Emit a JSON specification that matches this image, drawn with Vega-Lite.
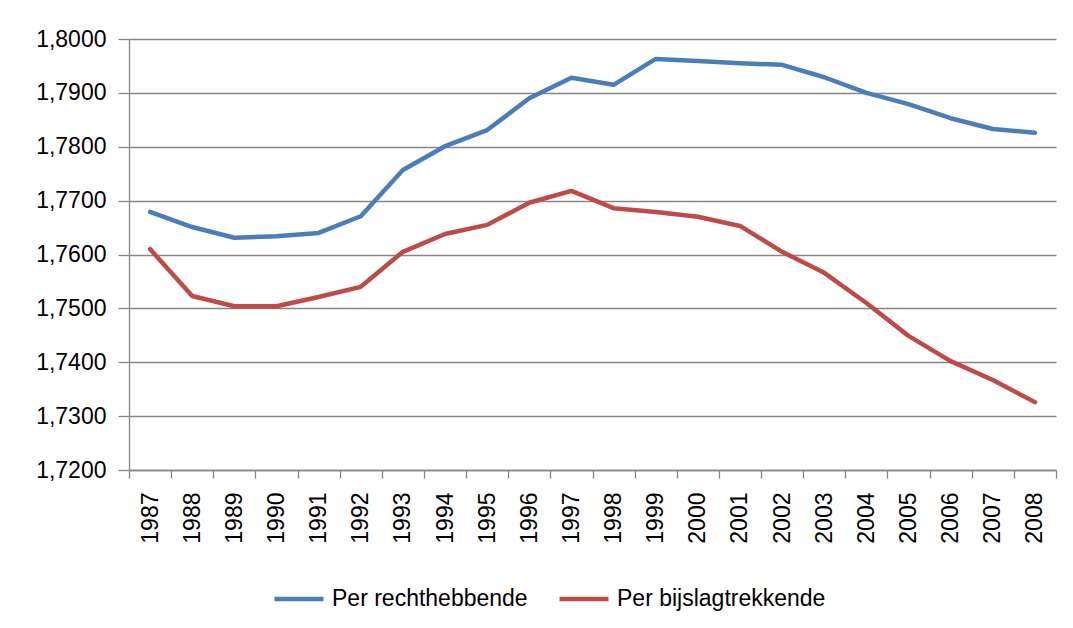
{
  "$schema": "https://vega.github.io/schema/vega-lite/v6.json",
  "autosize": {"type": "none"},
  "width": 927,
  "height": 431,
  "padding": {"left": 129, "top": 39, "right": 17, "bottom": 158},
  "background": "white",
  "config": {
    "view": {"stroke": null},
    "font": "Liberation Sans",
    "axis": {"labelFont": "Liberation Sans", "labelColor": "black", "domainColor": "#868686", "tickColor": "#868686", "gridColor": "#868686", "domainWidth": 1.3, "tickWidth": 1.3, "gridWidth": 1.3}
  },
  "data": {"values": [
    {"jaar": "1987", "reeks": "Per rechthebbende", "waarde": 1.7679},
    {"jaar": "1988", "reeks": "Per rechthebbende", "waarde": 1.7651},
    {"jaar": "1989", "reeks": "Per rechthebbende", "waarde": 1.7631},
    {"jaar": "1990", "reeks": "Per rechthebbende", "waarde": 1.7634},
    {"jaar": "1991", "reeks": "Per rechthebbende", "waarde": 1.7640},
    {"jaar": "1992", "reeks": "Per rechthebbende", "waarde": 1.7671},
    {"jaar": "1993", "reeks": "Per rechthebbende", "waarde": 1.7757},
    {"jaar": "1994", "reeks": "Per rechthebbende", "waarde": 1.7801},
    {"jaar": "1995", "reeks": "Per rechthebbende", "waarde": 1.7831},
    {"jaar": "1996", "reeks": "Per rechthebbende", "waarde": 1.7890},
    {"jaar": "1997", "reeks": "Per rechthebbende", "waarde": 1.7928},
    {"jaar": "1998", "reeks": "Per rechthebbende", "waarde": 1.7915},
    {"jaar": "1999", "reeks": "Per rechthebbende", "waarde": 1.7963},
    {"jaar": "2000", "reeks": "Per rechthebbende", "waarde": 1.7959},
    {"jaar": "2001", "reeks": "Per rechthebbende", "waarde": 1.7955},
    {"jaar": "2002", "reeks": "Per rechthebbende", "waarde": 1.7952},
    {"jaar": "2003", "reeks": "Per rechthebbende", "waarde": 1.7929},
    {"jaar": "2004", "reeks": "Per rechthebbende", "waarde": 1.7900},
    {"jaar": "2005", "reeks": "Per rechthebbende", "waarde": 1.7879},
    {"jaar": "2006", "reeks": "Per rechthebbende", "waarde": 1.7853},
    {"jaar": "2007", "reeks": "Per rechthebbende", "waarde": 1.7833},
    {"jaar": "2008", "reeks": "Per rechthebbende", "waarde": 1.7826},
    {"jaar": "1987", "reeks": "Per bijslagtrekkende", "waarde": 1.7610},
    {"jaar": "1988", "reeks": "Per bijslagtrekkende", "waarde": 1.7523},
    {"jaar": "1989", "reeks": "Per bijslagtrekkende", "waarde": 1.7504},
    {"jaar": "1990", "reeks": "Per bijslagtrekkende", "waarde": 1.7504},
    {"jaar": "1991", "reeks": "Per bijslagtrekkende", "waarde": 1.7521},
    {"jaar": "1992", "reeks": "Per bijslagtrekkende", "waarde": 1.7540},
    {"jaar": "1993", "reeks": "Per bijslagtrekkende", "waarde": 1.7605},
    {"jaar": "1994", "reeks": "Per bijslagtrekkende", "waarde": 1.7638},
    {"jaar": "1995", "reeks": "Per bijslagtrekkende", "waarde": 1.7655},
    {"jaar": "1996", "reeks": "Per bijslagtrekkende", "waarde": 1.7696},
    {"jaar": "1997", "reeks": "Per bijslagtrekkende", "waarde": 1.7718},
    {"jaar": "1998", "reeks": "Per bijslagtrekkende", "waarde": 1.7686},
    {"jaar": "1999", "reeks": "Per bijslagtrekkende", "waarde": 1.7679},
    {"jaar": "2000", "reeks": "Per bijslagtrekkende", "waarde": 1.7670},
    {"jaar": "2001", "reeks": "Per bijslagtrekkende", "waarde": 1.7653},
    {"jaar": "2002", "reeks": "Per bijslagtrekkende", "waarde": 1.7605},
    {"jaar": "2003", "reeks": "Per bijslagtrekkende", "waarde": 1.7566},
    {"jaar": "2004", "reeks": "Per bijslagtrekkende", "waarde": 1.7510},
    {"jaar": "2005", "reeks": "Per bijslagtrekkende", "waarde": 1.7449},
    {"jaar": "2006", "reeks": "Per bijslagtrekkende", "waarde": 1.7402},
    {"jaar": "2007", "reeks": "Per bijslagtrekkende", "waarde": 1.7367},
    {"jaar": "2008", "reeks": "Per bijslagtrekkende", "waarde": 1.7326}
  ]},
  "mark": {"type": "line", "strokeWidth": 4.5, "strokeCap": "round", "strokeJoin": "round"},
  "encoding": {
    "x": {
      "field": "jaar", "type": "ordinal",
      "scale": {"type": "band", "paddingInner": 0, "paddingOuter": 0},
      "axis": {"title": null, "labelAngle": -90, "labelAlign": "right", "labelBaseline": "middle", "labelFontSize": 23, "labelPadding": 14, "tickBand": "extent", "tickSize": 8, "grid": false}
    },
    "y": {
      "field": "waarde", "type": "quantitative",
      "scale": {"domain": [1.72, 1.80], "zero": false, "nice": false},
      "axis": {"title": null, "values": [1.72, 1.73, 1.74, 1.75, 1.76, 1.77, 1.78, 1.79, 1.80], "labelExpr": "replace(format(datum.value, '.4f'), '.', ',')", "labelFontSize": 23, "tickSize": 11, "labelPadding": 12, "grid": true}
    },
    "color": {
      "field": "reeks", "type": "nominal",
      "scale": {"domain": ["Per rechthebbende", "Per bijslagtrekkende"], "range": ["#4A7EBB", "#BE4B48"]},
      "legend": {"title": null, "orient": "none", "direction": "horizontal", "legendX": 143, "legendY": 533, "symbolType": "stroke", "symbolSize": 2400, "symbolStrokeWidth": 4.5, "labelFontSize": 23, "labelColor": "black", "labelFont": "Liberation Sans", "labelOffset": 6, "columnPadding": 22, "labelLimit": 400}
    }
  }
}
